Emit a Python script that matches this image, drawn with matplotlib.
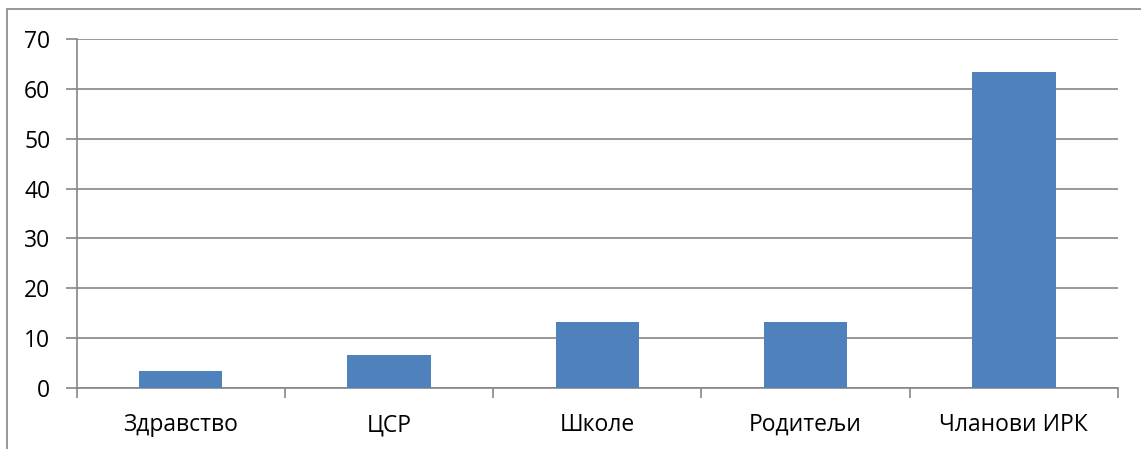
import matplotlib
matplotlib.use("Agg")
import matplotlib.pyplot as plt
from matplotlib.patches import Rectangle

categories = ["Здравство", "ЦСР", "Школе", "Родитељи", "Чланови ИРК"]
values = [3.33, 6.67, 13.33, 13.33, 63.33]
yticks = [0, 10, 20, 30, 40, 50, 60, 70]

W, H = 1141, 449
fig = plt.figure(figsize=(W/100, H/100), dpi=100)
plt.rcParams['font.family'] = ['Open Sans', 'DejaVu Sans']

left, right, top, bottom = 76.7, 1118, 39, 388
ax = fig.add_axes([left/W, 1-bottom/H, (right-left)/W, (bottom-top)/H])

grid_c = "#868686"
fs = 16.5
x = range(len(categories))
ax.bar(x, values, width=0.4, color="#4F81BD", zorder=3)
ax.set_xlim(-0.5, len(categories)-0.5)
ax.set_ylim(0, 70)
ax.set_yticks(yticks)
ax.set_yticklabels([str(t) for t in yticks], fontsize=fs)
ax.yaxis.grid(True, color=grid_c, linewidth=1.2, zorder=0)
ax.set_xticks([i - 0.5 for i in range(len(categories)+1)])
ax.set_xticklabels([])
ax.set_xticks(list(x), minor=True)
ax.set_xticklabels(categories, minor=True, fontsize=fs)
ax.tick_params(axis='x', which='minor', length=0, pad=18)
ax.tick_params(axis='x', which='major', direction='out', length=7, color=grid_c, width=1.2)
ax.tick_params(axis='y', direction='out', length=8, color=grid_c, width=1.2, pad=11)
for s in ['top', 'right']:
    ax.spines[s].set_visible(False)
for s in ['left', 'bottom']:
    ax.spines[s].set_color(grid_c)
    ax.spines[s].set_linewidth(1.2)

y_top = 1 - 9/H
fig.patches.append(Rectangle((7/W, -0.5), 1.5, y_top + 0.5, transform=fig.transFigure,
                             fill=False, edgecolor=grid_c, linewidth=1.2))
fig.savefig("out.png", dpi=100)
